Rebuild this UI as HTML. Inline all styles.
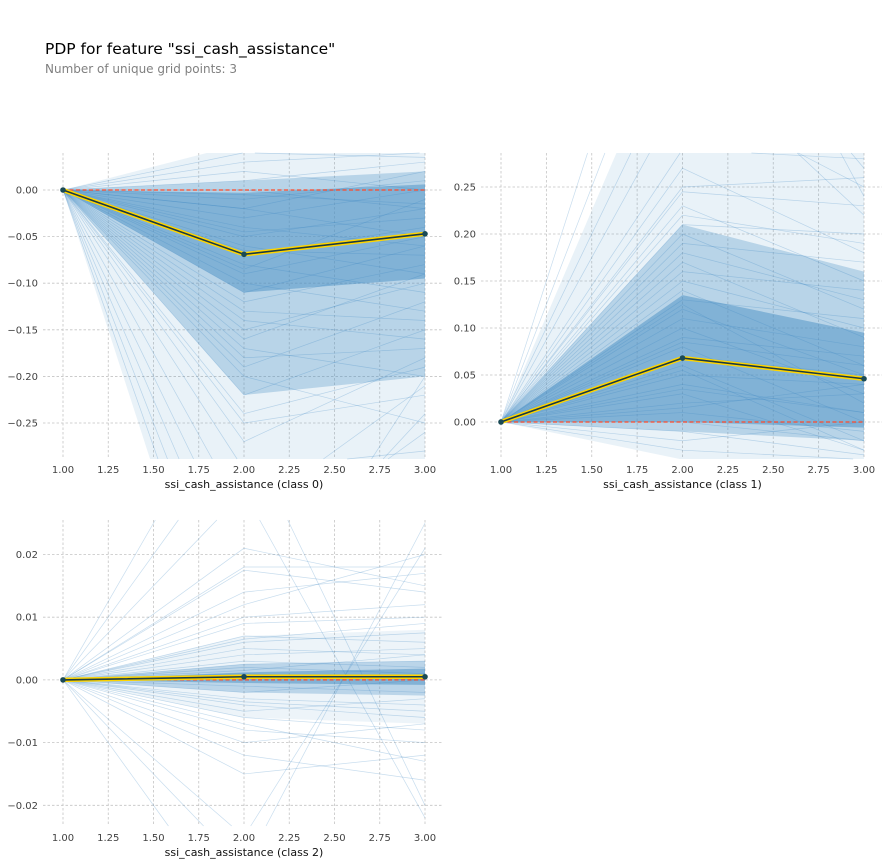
<!DOCTYPE html>
<html><head><meta charset="utf-8"><style>
html,body{margin:0;padding:0;background:#fff;overflow:hidden}
body{width:896px;height:865px;overflow:hidden;font-family:"DejaVu Sans","Liberation Sans",sans-serif}
svg{display:block}
svg text{font-family:"DejaVu Sans","Liberation Sans",sans-serif}
</style></head><body>
<svg id="chart" width="896" height="865" viewBox="0 0 896 865">
<text x="45" y="54" font-size="15.5" fill="#000">PDP for feature "ssi_cash_assistance"</text>
<text x="45" y="73" font-size="12" fill="#808080">Number of unique grid points: 3</text>
</svg>
<script>
// ===== data =====
const gridX = [1, 2, 3];
const xTicks = [1.0, 1.25, 1.5, 1.75, 2.0, 2.25, 2.5, 2.75, 3.0];
const xTickLabels = ["1.00","1.25","1.50","1.75","2.00","2.25","2.50","2.75","3.00"];

const pdp0 = [0, -0.069, -0.047];
const pdp1 = [0, 0.068, 0.046];
const pdp2 = [0, 0.0005, 0.0005];

const yTicks0 = [0.0, -0.05, -0.10, -0.15, -0.20, -0.25];
const yTickLabels0 = ["0.00","\u22120.05","\u22120.10","\u22120.15","\u22120.20","\u22120.25"];
const yTicks1 = [0.0, 0.05, 0.10, 0.15, 0.20, 0.25];
const yTickLabels1 = ["0.00","0.05","0.10","0.15","0.20","0.25"];
const yTicks2 = [0.02, 0.01, 0.0, -0.01, -0.02];
const yTickLabels2 = ["0.02","0.01","0.00","\u22120.01","\u22120.02"];

// ICE density bands (lo/hi at each grid point), faint -> dense
const band0Lo = [[0,-0.60,-0.29],[0,-0.22,-0.20],[0,-0.11,-0.095]];
const band0Hi = [[0,0.05,0.05],[0,0.01,0.02],[0,-0.003,0.006]];
const band1Lo = [[0,-0.04,-0.04],[0,-0.01,-0.02],[0,0.0,-0.006]];
const band1Hi = [[0,0.45,0.29],[0,0.21,0.16],[0,0.135,0.095]];
const band2Lo = [[0,-0.006,-0.007],[0,-0.002,-0.0025],[0,-0.0005,-0.0008]];
const band2Hi = [[0,0.007,0.008],[0,0.0025,0.003],[0,0.0012,0.0018]];

// individual ICE lines: value at x=2 and x=3 (x=1 is 0)
const ice0At2 = [0.03,0.02,0.01,0.0,-0.01,-0.02,-0.03,-0.04,-0.05,-0.06,-0.07,-0.08,-0.09,-0.1,-0.12,-0.14,-0.15,-0.17,-0.19,-0.2,-0.22,-0.25,-0.27,-0.3,-0.35,-0.4,-0.45,-0.5,-0.55,-0.02,-0.045,-0.065,-0.085,-0.11,-0.13,-0.16,-0.18,-0.24,0.04,-0.005];
const ice0At3 = [0.04,0.0,0.03,-0.02,0.01,-0.05,0.0,-0.06,-0.02,-0.09,-0.04,-0.11,-0.05,-0.13,-0.08,-0.16,-0.1,-0.2,-0.12,-0.25,-0.15,-0.22,-0.18,-0.28,-0.21,-0.26,-0.24,-0.2,-0.29,0.02,-0.03,-0.07,-0.01,-0.06,-0.14,-0.09,-0.17,-0.19,0.035,-0.015];
const ice1At2 = [0.29,0.27,0.25,0.23,0.21,0.2,0.19,0.17,0.16,0.15,0.14,0.13,0.12,0.11,0.1,0.09,0.08,0.07,0.06,0.05,0.04,0.03,0.02,0.01,0.0,-0.01,-0.02,-0.03,0.35,0.4,0.5,0.6,0.18,0.125,0.085,0.055,0.035,0.015,0.22,0.245];
const ice1At3 = [0.28,0.18,0.26,0.15,0.2,0.12,0.17,0.09,0.14,0.1,0.06,0.11,0.05,0.08,0.03,0.07,0.0,0.05,-0.02,0.04,0.01,-0.03,0.03,-0.01,-0.02,-0.035,0.0,-0.04,0.25,0.22,0.27,0.24,0.13,0.02,0.06,-0.03,0.01,0.04,0.19,0.23];
const ice2At2 = [0.018,0.021,0.014,0.01,0.009,0.007,0.006,0.005,0.004,0.003,0.0025,0.002,0.0015,0.001,-0.001,-0.002,-0.003,-0.004,-0.005,-0.006,-0.008,-0.01,-0.012,-0.015,0.04,0.05,-0.03,-0.04,0.012,0.0065,-0.0035,0.03,-0.025,0.0175,-0.007];
const ice2At3 = [0.018,0.015,0.017,0.012,0.01,0.006,0.0075,0.004,0.005,0.002,0.003,0.001,0.004,0.0,-0.002,0.0,-0.004,-0.006,-0.003,-0.008,-0.01,-0.007,-0.016,-0.012,-0.02,0.03,0.025,-0.03,0.02,0.009,-0.005,-0.022,0.021,0.014,-0.013];

// ===== rendering =====
const NS = "http://www.w3.org/2000/svg";
const svg = document.getElementById("chart");
function mk(tag, attrs, parent){const e=document.createElementNS(NS,tag);for(const k in attrs)e.setAttribute(k,attrs[k]);(parent||svg).appendChild(e);return e;}

// clip a polygon (array of [x,y]) to horizontal band ymin..ymax (Sutherland-Hodgman)
function clipPoly(pts, ymin, ymax, closed){
  function clipEdge(p, inside, inter){
    const out=[]; const n=p.length; if(!n) return out;
    const lim = closed ? n : n-1;
    if(!closed){
      // polyline: clip each segment separately -> return list of segments
    }
    for(let i=0;i<n;i++){
      const a=p[i], b=p[(i+1)%n];
      const ia=inside(a), ib=inside(b);
      if(ia&&ib) out.push(b);
      else if(ia&&!ib) out.push(inter(a,b));
      else if(!ia&&ib){out.push(inter(a,b));out.push(b);}
    }
    return out;
  }
  const ix=(a,b,y)=>[a[0]+(b[0]-a[0])*(y-a[1])/(b[1]-a[1]),y];
  let r = clipEdge(pts, p=>p[1]>=ymin, (a,b)=>ix(a,b,ymin));
  r = clipEdge(r, p=>p[1]<=ymax, (a,b)=>ix(a,b,ymax));
  return r;
}
function clipSeg(a,b,ymin,ymax){
  let t0=0,t1=1; const dy=b[1]-a[1];
  if(dy===0){ if(a[1]<ymin||a[1]>ymax) return null; return [a,b]; }
  let ta=(ymin-a[1])/dy, tb=(ymax-a[1])/dy;
  if(ta>tb){const t=ta;ta=tb;tb=t;}
  t0=Math.max(t0,ta); t1=Math.min(t1,tb);
  if(t0>=t1) return null;
  const P=t=>[a[0]+(b[0]-a[0])*t,a[1]+dy*t];
  return [P(t0),P(t1)];
}

function panel(cfg){
  const {id,x0,x1,y0,y1,gx0,gx1,yMin,yMax,yT,yL,bLo,bHi,i2,i3,pdp,label,tickY,ops} = cfg;
  const sx = v => x0 + (v-1)/(2)*(x1-x0);
  const sy = v => y1 - (v-yMin)/(yMax-yMin)*(y1-y0);
  const g = mk("g",{});
  
  
  xTicks.forEach((t,i)=>{
    const l = mk("line",{x1:sx(t),x2:sx(t),y1:y0,y2:y1,stroke:"#c4c4c4","stroke-width":0.8,"stroke-dasharray":"2.5,2"},g);
    
    
    const tx = mk("text",{x:sx(t),y:tickY,"font-size":10,fill:"#424242","text-anchor":"middle"},g);
    tx.textContent = xTickLabels[i];
    
    
  });
  yT.forEach((t,i)=>{
    const l = mk("line",{x1:gx0,x2:gx1,y1:sy(t),y2:sy(t),stroke:"#c4c4c4","stroke-width":0.8,"stroke-dasharray":"2.5,2"},g);
    
    
    const tx = mk("text",{x:gx0-5,y:sy(t)+3.5,"font-size":10,fill:"#424242","text-anchor":"end"},g);
    tx.textContent = yL[i];
    
    
  });
  const pg = mk("g",{},g);
  bLo.forEach((lo,k)=>{
    const hi = bHi[k];
    const poly = gridX.map((x,j)=>[sx(x),sy(hi[j])]).concat(gridX.slice().reverse().map((x,j)=>[sx(x),sy(lo[2-j])]));
    const c = clipPoly(poly, y0, y1, true);
    if(c.length<3) return;
    const d = "M"+c.map(p=>p[0].toFixed(2)+","+p[1].toFixed(2)).join(" L")+"Z";
    const p = mk("path",{d:d,fill:"#4a90c4","fill-opacity":ops[k],stroke:"none"},pg);
    
    
  });
  i2.forEach((v,j)=>{
    const P=[[sx(1),sy(0)],[sx(2),sy(v)],[sx(3),sy(i3[j])]];
    let d="";
    for(let s=0;s<2;s++){
      const c=clipSeg(P[s],P[s+1],y0,y1);
      if(c) d+="M"+c[0][0].toFixed(2)+","+c[0][1].toFixed(2)+" L"+c[1][0].toFixed(2)+","+c[1][1].toFixed(2)+" ";
    }
    if(!d) return;
    const p = mk("path",{d:d,fill:"none",stroke:"#3a86c2","stroke-opacity":0.28,"stroke-width":0.7},pg);
    
    
  });
  const zl = mk("line",{x1:sx(1),x2:sx(3),y1:sy(0),y2:sy(0),stroke:"#ff4a2a","stroke-width":1.2,"stroke-dasharray":"4,2.5"},pg);
  
  
  const pts = gridX.map((x,j)=>sx(x)+","+sy(pdp[j])).join(" ");
  const yl = mk("polyline",{points:pts,fill:"none",stroke:"#ffd500","stroke-width":4.5,"stroke-linejoin":"round"},pg);
  
  
  const bl = mk("polyline",{points:pts,fill:"none",stroke:"#1a3a44","stroke-width":1.6},pg);
  
  
  gridX.forEach((x,j)=>{
    const c = mk("circle",{cx:sx(x),cy:sy(pdp[j]),r:2.8,fill:"#1a4a55"},pg);
    
    
  });
  const xl = mk("text",{x:(x0+x1)/2,y:tickY+15,"font-size":11,fill:"#111","text-anchor":"middle"},g);
  xl.textContent = label;
  
  
}

panel({id:"class0",x0:63,x1:425,y0:153,y1:459,gx0:43,gx1:443,yMin:-0.2886,yMax:0.0397,yT:yTicks0,yL:yTickLabels0,bLo:band0Lo,bHi:band0Hi,i2:ice0At2,i3:ice0At3,pdp:pdp0,label:"ssi_cash_assistance (class 0)",tickY:473,ops:[0.12,0.3,0.5]});
panel({id:"class1",x0:501,x1:864,y0:153,y1:459,gx0:481,gx1:882,yMin:-0.0394,yMax:0.2862,yT:yTicks1,yL:yTickLabels1,bLo:band1Lo,bHi:band1Hi,i2:ice1At2,i3:ice1At3,pdp:pdp1,label:"ssi_cash_assistance (class 1)",tickY:473,ops:[0.12,0.3,0.5]});
panel({id:"class2",x0:63,x1:425,y0:520,y1:826,gx0:43,gx1:443,yMin:-0.0233,yMax:0.0255,yT:yTicks2,yL:yTickLabels2,bLo:band2Lo,bHi:band2Hi,i2:ice2At2,i3:ice2At3,pdp:pdp2,label:"ssi_cash_assistance (class 2)",tickY:841,ops:[0.1,0.3,0.5]});
</script>
</body></html>
